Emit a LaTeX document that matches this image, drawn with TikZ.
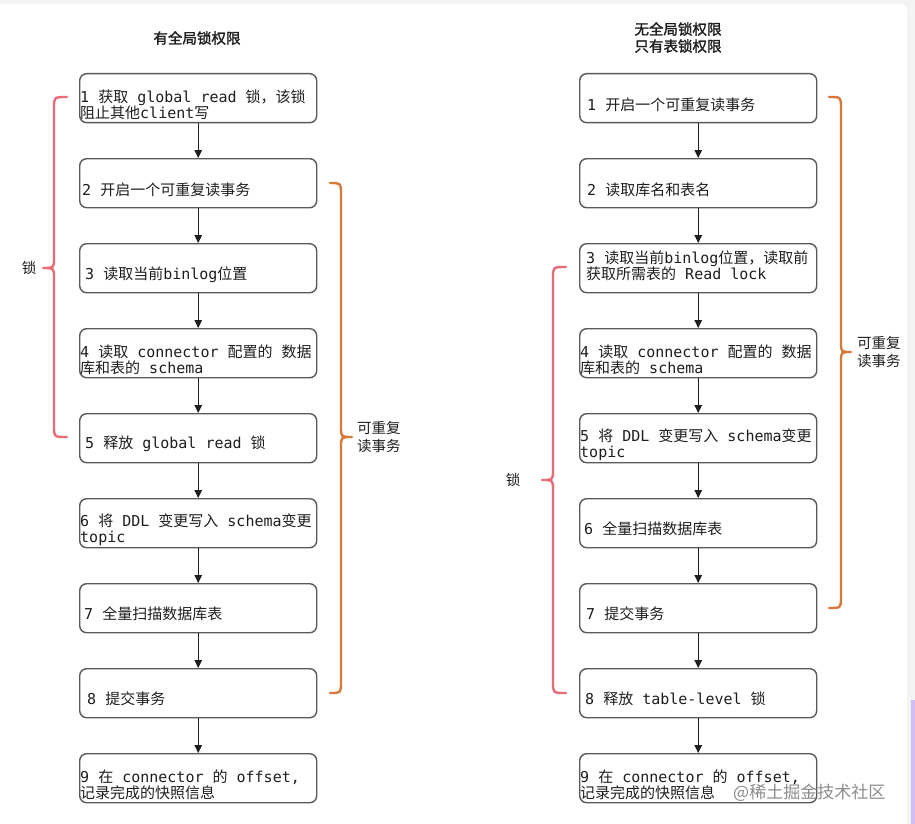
\documentclass[tikz,border=0pt]{standalone}
\usepackage{fontspec}
\setmonofont{DejaVu Sans Mono}
\newfontfamily\cjk{Noto Sans CJK SC}
\newfontfamily\cjkb[FakeBold=1.6]{Noto Sans CJK SC}
\newcommand\zh[1]{{\cjk #1}}
\usetikzlibrary{arrows.meta}
\definecolor{lockred}{HTML}{EA6B78}
\definecolor{txorange}{HTML}{D8793A}
\definecolor{boxline}{HTML}{5A5A5A}
\definecolor{txt}{HTML}{1E1E1E}
\definecolor{pagegray}{HTML}{F3F3F3}
\definecolor{stripe}{HTML}{D2BDF2}
\begin{document}
\begin{tikzpicture}[x=1pt,y=-1pt,
  stepbox/.style={draw=boxline, line width=1.4pt, rounded corners=7pt,
    minimum width=237pt, minimum height=49pt, inner sep=0pt, fill=white, anchor=north west},
  steplabel/.style={anchor=west, align=left, inner sep=0pt, text=txt,
    font=\ttfamily\fontsize{15}{16}\selectfont},
  flow/.style={draw=txt, line width=1.2pt, -{Triangle[length=8pt,width=7.5pt]}},
  lockbrace/.style={draw=lockred, line width=2.4pt, line cap=round, line join=round},
  txbrace/.style={draw=txorange, line width=2.4pt, line cap=round, line join=round},
  bracelabel/.style={inner sep=0pt, text=txt, align=left, font=\cjk\fontsize{14.5}{18}\selectfont},
  titletext/.style={inner sep=0pt, text=txt, align=center, font=\cjkb\fontsize{14.5}{17}\selectfont}
]
\useasboundingbox (0,0) rectangle (915,824);
\fill[pagegray] (0,0) rectangle (915,824);
\fill[white, rounded corners=6pt] (-10,4) rectangle (907,834);
\fill[stripe] (911,700) rectangle (915,824);

% titles
\node[titletext] (titleL) at (197,38) {有全局锁权限};
\node[titletext] (titleR) at (678,37.5) {无全局锁权限\\只有表锁权限};

% left column boxes
\foreach \i/\t in {1/73,2/158,3/243,4/328,5/413,6/498,7/583,8/668,9/753}{
  \node[stepbox] (L\i) at (79,\t) {};
  \node[stepbox] (R\i) at (579,\t) {};
}

% left labels
\node[steplabel] (L1t) at (80,105) {1 \zh{获取} global read \zh{锁，该锁}\\\zh{阻止其他}client\zh{写}};
\node[steplabel] (L2t) at (82,190) {2 \zh{开启一个可重复读事务}};
\node[steplabel] (L3t) at (85,275) {3 \zh{读取当前}binlog\zh{位置}};
\node[steplabel] (L4t) at (80,360) {4 \zh{读取} connector \zh{配置的} \zh{数据}\\\zh{库和表的} schema};
\node[steplabel] (L5t) at (85,444) {5 \zh{释放} global read \zh{锁}};
\node[steplabel] (L6t) at (80,530) {6 \zh{将} DDL \zh{变更写入} schema\zh{变更}\\topic};
\node[steplabel] (L7t) at (84,614) {7 \zh{全量扫描数据库表}};
\node[steplabel] (L8t) at (87,699) {8 \zh{提交事务}};
\node[steplabel] (L9t) at (80,785) {9 \zh{在} connector \zh{的} offset,\\\zh{记录完成的快照信息}};

% right labels
\node[steplabel] (R1t) at (587,105) {1 \zh{开启一个可重复读事务}};
\node[steplabel] (R2t) at (587,190) {2 \zh{读取库名和表名}};
\node[steplabel] (R3t) at (586,265.5) {3 \zh{读取当前}binlog\zh{位置，读取前}\\\zh{获取所需表的} Read lock};
\node[steplabel] (R4t) at (580,360) {4 \zh{读取} connector \zh{配置的} \zh{数据}\\\zh{库和表的} schema};
\node[steplabel] (R5t) at (580,445) {5 \zh{将} DDL \zh{变更写入} schema\zh{变更}\\topic};
\node[steplabel] (R6t) at (584,529) {6 \zh{全量扫描数据库表}};
\node[steplabel] (R7t) at (586,614) {7 \zh{提交事务}};
\node[steplabel] (R8t) at (585,699) {8 \zh{释放} table-level \zh{锁}};
\node[steplabel] (R9t) at (580,785) {9 \zh{在} connector \zh{的} offset,\\\zh{记录完成的快照信息}};

% arrows
\foreach \a/\b in {1/2,2/3,3/4,4/5,5/6,6/7,7/8,8/9}{
  \draw[flow] (L\a) -- (L\b);
  \draw[flow] (R\a) -- (R\b);
}

% braces left
\draw[lockbrace] (67,97) .. controls (54,97) .. (54,108) -- (54,258)
  .. controls (54,268) .. (43,268) .. controls (54,268) .. (54,278)
  -- (54,427) .. controls (54,437) .. (67,437);
\node[bracelabel] (lockL) at (29,268) {锁};
\draw[txbrace] (330,183) .. controls (341,183) .. (341,194) -- (341,427)
  .. controls (341,437) .. (352,437) .. controls (341,437) .. (341,447)
  -- (341,682) .. controls (341,693) .. (330,693);
\node[bracelabel, anchor=west] (txL) at (357,437) {可重复\\读事务};

% braces right
\draw[lockbrace] (566,267) .. controls (553,267) .. (553,278) -- (553,470)
  .. controls (553,480) .. (542,480) .. controls (553,480) .. (553,490)
  -- (553,682) .. controls (553,693) .. (566,693);
\node[bracelabel] (lockR) at (513,480) {锁};
\draw[txbrace] (829,97) .. controls (841,97) .. (841,108) -- (841,342)
  .. controls (841,352) .. (851,352) .. controls (841,352) .. (841,362)
  -- (841,597) .. controls (841,608) .. (829,608);
\node[bracelabel, anchor=west] (txR) at (857,352) {可重复\\读事务};

% watermark
\node[anchor=west, inner sep=0pt, text=black!45, font=\cjk\fontsize{17}{17}\selectfont] (wm) at (733,793) {@稀土掘金技术社区};
\end{tikzpicture}
\end{document}
